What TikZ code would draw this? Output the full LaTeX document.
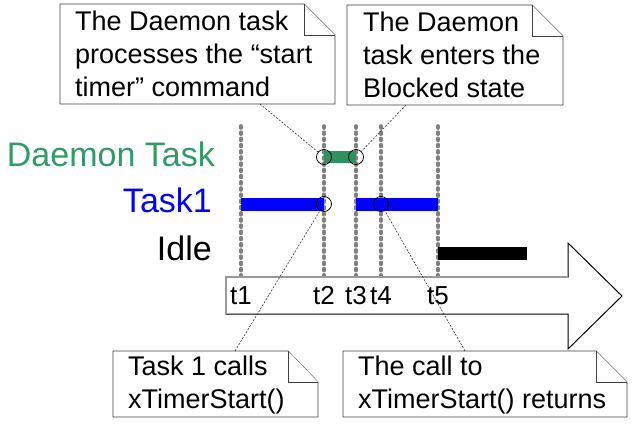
\documentclass[tikz,border=0pt]{standalone}
\usepackage{fontspec}
\setmainfont{Liberation Sans}
\definecolor{daemongreen}{RGB}{46,145,95}
\definecolor{labelgreen}{RGB}{51,153,102}
\definecolor{taskblue}{RGB}{0,0,255}
\definecolor{timegray}{RGB}{128,128,128}
\begin{document}
\begin{tikzpicture}[x=1pt,y=-1pt,
  vline/.style={draw=timegray, line width=3.6pt, dash pattern=on 2pt off 4.2pt, line cap=round},
  bar/.style={line width=13pt},
  mark circle/.style={circle, draw=black, inner sep=0pt, minimum size=15pt, line width=0.8pt},
  leader/.style={draw=black!80, line width=0.6pt, dash pattern=on 2pt off 1.5pt},
  callout/.style={draw=black!75, line width=0.9pt, fill=white},
  callouttext/.style={anchor=north west, inner sep=0pt, align=left, font=\fontsize{27}{33}\selectfont},
  tasklabel/.style={anchor=base east, inner sep=0pt, font=\fontsize{34}{40}\selectfont},
  tlabel/.style={anchor=base, inner sep=0pt, font=\fontsize{26}{30}\selectfont}]
\useasboundingbox (0,0) rectangle (633,424);

% vertical dotted time lines
\foreach \n/\x in {1/241,2/324,3/356,4/381,5/438}{
  \coordinate (v\n t) at (\x,126);
  \coordinate (v\n b) at (\x,277);
  \draw[vline] (v\n t) -- (v\n b);
}

% time arrow
\draw[black, line width=1pt, fill=white, line join=miter]
  (226,277) -- (568,277) -- (568,243) -- (622,296) -- (568,349) -- (568,314) -- (226,314) -- cycle;
\draw[gray!80, line width=1.5pt] (226,314) -- (226,277) -- (568,277);

% time labels
\node[tlabel] (lt1) at (241,304) {t1};
\node[tlabel] (lt2) at (324,304) {t2};
\node[tlabel] (lt3) at (356,304) {t3};
\node[tlabel] (lt4) at (381,304) {t4};
\node[tlabel] (lt5) at (438,304) {t5};

% task labels
\node[tasklabel, text=labelgreen] (ldaemon) at (215,166) {Daemon Task};
\node[tasklabel, text=taskblue] (ltask) at (212,212) {Task1};
\node[tasklabel, text=black] (lidle) at (212,260) {Idle};

% bars
\coordinate (d1) at (324,157); \coordinate (d2) at (356,157);
\draw[bar, line width=12pt, daemongreen] (d1) -- (d2);
\coordinate (ta1) at (241,204.5); \coordinate (ta2) at (324,204.5);
\coordinate (tb1) at (356,204.5); \coordinate (tb2) at (438,204.5);
\draw[bar, taskblue] (ta1) -- (ta2);
\draw[bar, taskblue] (tb1) -- (tb2);
\coordinate (i1) at (438,253); \coordinate (i2) at (527,253);
\draw[bar, black] (i1) -- (i2);

% marker circles
\node[mark circle] (c1) at (324,157) {};
\node[mark circle] (c2) at (356,157) {};
\node[mark circle] (c3) at (324,204) {};
\node[mark circle] (c4) at (381,204) {};

% callouts (folded-corner notes)
\draw[callout] (60,4) -- (304,4) -- (335,35) -- (335,104) -- (60,104) -- cycle;
\draw[callout] (304,4) -- (304,35) -- (335,35);
\draw[callout] (347,5) -- (532,5) -- (563,36) -- (563,105) -- (347,105) -- cycle;
\draw[callout] (532,5) -- (532,36) -- (563,36);
\draw[callout] (113,351) -- (288,351) -- (318,382) -- (318,417) -- (113,417) -- cycle;
\draw[callout] (288,351) -- (288,382) -- (318,382);
\draw[callout] (343,351) -- (596,351) -- (627,382) -- (627,417) -- (343,417) -- cycle;
\draw[callout] (596,351) -- (596,382) -- (627,382);

\node[callouttext] (n1) at (75,10.6) {The Daemon task\\processes the “start\\timer” command};
\node[callouttext] (n2) at (363,11.6) {The Daemon\\task enters the\\Blocked state};
\node[callouttext] (n3) at (128,355.6) {Task 1 calls\\xTimerStart()};
\node[callouttext] (n4) at (358,355.6) {The call to\\xTimerStart() returns};

% leaders
\coordinate (a1) at (260,104);
\coordinate (a2) at (406,105);
\coordinate (a3) at (235,351);
\coordinate (a4) at (465,351);
\draw[leader] (a1) -- (c1);
\draw[leader] (a2) -- (c2);
\draw[leader] (a3) -- (c3);
\draw[leader] (a4) -- (c4);
\end{tikzpicture}
\end{document}
